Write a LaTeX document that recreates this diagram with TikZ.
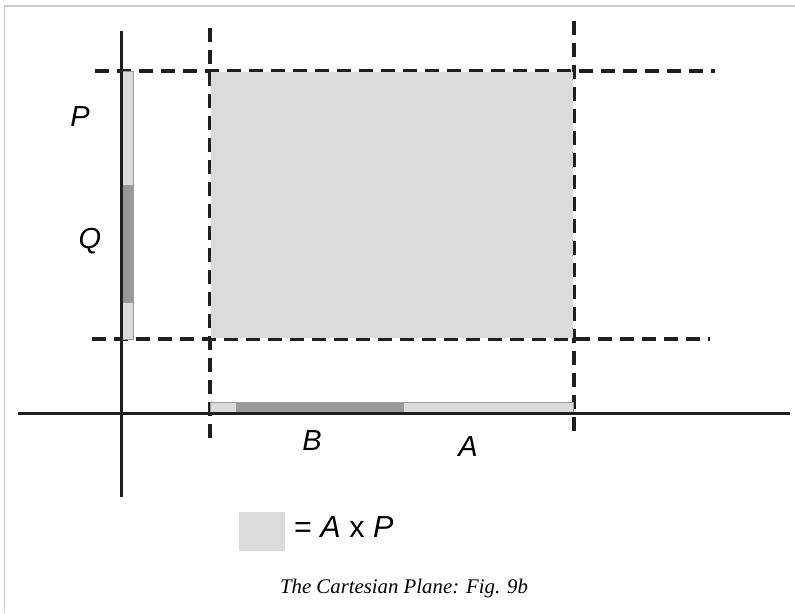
\documentclass[tikz,border=0pt]{standalone}
\usepackage{fontspec}
\setmainfont{Liberation Serif}
\setsansfont{Liberation Sans}
\begin{document}
\begin{tikzpicture}[x=1pt,y=-1pt,
  axis/.style={line width=3pt,draw=black!88},
  guide/.style={line width=3.4pt,draw=black!88,dash pattern=on 14pt off 8pt},
  frame/.style={line width=1.6pt,draw=black!20},
  lightbar/.style={fill=black!14,draw=black!40,line width=1pt},
  darkbar/.style={fill=black!40,draw=none},
  lab/.style={font=\sffamily\itshape\fontsize{29}{31}\selectfont,inner sep=0pt},
  captext/.style={font=\rmfamily\itshape\fontsize{20.8}{23}\selectfont,inner sep=0pt}]
\useasboundingbox (0,0) rectangle (795,613);
\fill[white] (0,0) rectangle (795,613);
% frame (left and top only)
\draw[frame] (4.5,613) -- (4.5,6) -- (795,6);
% coordinates
\coordinate (yt) at (121,31);
\coordinate (yb) at (121,497);
\coordinate (xl) at (18,413);
\coordinate (xr) at (790,413);
% dashed guides
\draw[guide] (95,71) -- (715,71);
\draw[guide] (92,339) -- (710,339);
\draw[guide] (210,28) -- (210,438);
\draw[guide] (574,21) -- (574,433);
% product region
\fill[black!14] (211,72) rectangle (573,338);
% P / Q bar on vertical axis
\draw[lightbar] (121,71) rectangle (133,339);
\fill[darkbar] (121.5,185) rectangle (132.5,303);
% A / B bar on horizontal axis
\draw[lightbar] (210,402) rectangle (573,413);
\fill[darkbar] (236,402.5) rectangle (404,412.5);
% axes
\draw[axis] (yt) -- (yb);
\draw[axis] (xl) -- (xr);
% labels
\node[lab] (P) at (80,117) {P};
\node[lab] (Q) at (90,241) {Q};
\node[lab] (B) at (312,441) {B};
\node[lab] (A) at (468,447) {A};
% legend
\node[fill=black!14,minimum width=46pt,minimum height=39pt,inner sep=0pt] (key) at (262,531.5) {};
\node[lab,font=\sffamily\fontsize{30.5}{32}\selectfont,anchor=west] (keytext) at (294,527) {= \textit{A} x \textit{P}};
% caption
\node[captext] (caption) at (404,588) {The Cartesian Plane: Fig. 9b};
\end{tikzpicture}
\end{document}
